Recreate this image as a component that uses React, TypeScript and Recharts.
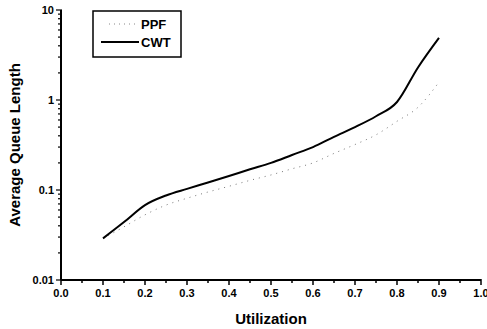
import { LineChart, Line, XAxis, YAxis, Legend } from 'recharts';

const utilization = [0.1, 0.15, 0.2, 0.25, 0.3, 0.35, 0.4, 0.45, 0.5, 0.55, 0.6, 0.65, 0.7, 0.75, 0.8, 0.85, 0.9];
const ppf = [0.029, 0.039, 0.053, 0.068, 0.081, 0.095, 0.11, 0.128, 0.147, 0.172, 0.2, 0.255, 0.32, 0.41, 0.58, 0.83, 1.58];
const cwt = [0.029, 0.044, 0.068, 0.087, 0.103, 0.121, 0.143, 0.17, 0.2, 0.245, 0.3, 0.39, 0.5, 0.66, 0.95, 2.3, 4.9];

const xTicks = [0, 0.05, 0.1, 0.15, 0.2, 0.25, 0.3, 0.35, 0.4, 0.45, 0.5, 0.55, 0.6, 0.65, 0.7, 0.75, 0.8, 0.85, 0.9, 0.95, 1];
const yMajor = [0.01, 0.1, 1, 10];
const yTicks = [
    0.01, 0.02, 0.03, 0.04, 0.05, 0.06, 0.07, 0.08, 0.09,
    0.1, 0.2, 0.3, 0.4, 0.5, 0.6, 0.7, 0.8, 0.9,
    1, 2, 3, 4, 5, 6, 7, 8, 9, 10,
];

const data = utilization.map((u, i) => ({ u, ppf: ppf[i], cwt: cwt[i] }));

const font = '"Liberation Sans", Arial, sans-serif';

const XTick = (props: any) => {
    const { x, y, payload } = props;
    const v = payload.value;
    const major = Math.round(v * 100) % 10 === 0;
    return (
        <g>
            <line x1={x} y1={y - 1} x2={x} y2={y + (major ? 5 : 3)} stroke="#000" strokeWidth={1.5} />
            {major && (
                <text x={x} y={y + 17} textAnchor="middle" fontSize={11} fontWeight="bold" fontFamily={font} fill="#000">
                    {v.toFixed(1)}
                </text>
            )}
        </g>
    );
};

const YTick = (props: any) => {
    const { x, y, payload } = props;
    const v = payload.value;
    const major = yMajor.some((m) => Math.abs(m - v) < 1e-9);
    return (
        <g>
            <line x1={x + 1} y1={y} x2={x - (major ? 5 : 3)} y2={y} stroke="#000" strokeWidth={1.2} />
            {major && (
                <text x={x - 7} y={y + 4} textAnchor="end" fontSize={11} fontWeight="bold" fontFamily={font} fill="#000">
                    {String(v)}
                </text>
            )}
        </g>
    );
};

const renderLegend = () => (
    <svg width={90} height={48}>
        <rect x={1} y={1} width={88} height={46} fill="#fff" stroke="#000" strokeWidth={1.5} />
        <line x1={17} y1={14} x2={43} y2={14} stroke="#888" strokeWidth={1} strokeDasharray="1 4" />
        <text x={49} y={18.5} fontSize={13} fontWeight="bold" fontFamily={font} fill="#000">PPF</text>
        <line x1={9} y1={32} x2={47} y2={32} stroke="#000" strokeWidth={2} />
        <text x={49} y={37} fontSize={13} fontWeight="bold" fontFamily={font} fill="#000">CWT</text>
    </svg>
);

export default function App() {
    return (
        <div style={{ position: 'absolute', left: 0, top: 0, width: 487, height: 329, background: '#fff' }}>
            <LineChart width={487} height={329} data={data} margin={{ top: 10, right: 6, left: 0, bottom: 0 }}>
                <XAxis
                    dataKey="u"
                    type="number"
                    domain={[0, 1]}
                    ticks={xTicks}
                    interval={0}
                    height={49}
                    tickSize={0}
                    tickMargin={0}
                    tickLine={false}
                    tick={XTick}
                    axisLine={{ stroke: '#000', strokeWidth: 2 }}
                    label={{
                        value: 'Utilization',
                        position: 'insideBottom',
                        offset: 5,
                        style: { fontSize: 15, fontWeight: 'bold', fontFamily: font, fill: '#000' },
                    }}
                />
                <YAxis
                    type="number"
                    scale="log"
                    domain={[0.01, 10]}
                    ticks={yTicks}
                    interval={0}
                    width={61}
                    tickSize={0}
                    tickMargin={0}
                    tickLine={false}
                    tick={YTick}
                    allowDataOverflow
                    axisLine={{ stroke: '#000', strokeWidth: 2 }}
                    label={{
                        value: 'Average Queue Length',
                        angle: -90,
                        position: 'insideLeft',
                        offset: 15,
                        textAnchor: 'middle',
                        style: { fontSize: 15, fontWeight: 'bold', fontFamily: font, fill: '#000', textAnchor: 'middle' },
                    }}
                />
                <Legend
                    verticalAlign="middle"
                    align="center"
                    layout="vertical"
                    content={renderLegend}
                    wrapperStyle={{ left: 92, top: 10, width: 90, height: 48 }}
                />
                <Line
                    type="monotone"
                    dataKey="ppf"
                    name="PPF"
                    stroke="#777"
                    strokeWidth={1}
                    strokeDasharray="1 5"
                    dot={false}
                    isAnimationActive={false}
                />
                <Line
                    type="monotone"
                    dataKey="cwt"
                    name="CWT"
                    stroke="#000"
                    strokeWidth={2}
                    dot={false}
                    isAnimationActive={false}
                />
            </LineChart>
        </div>
    );
}
